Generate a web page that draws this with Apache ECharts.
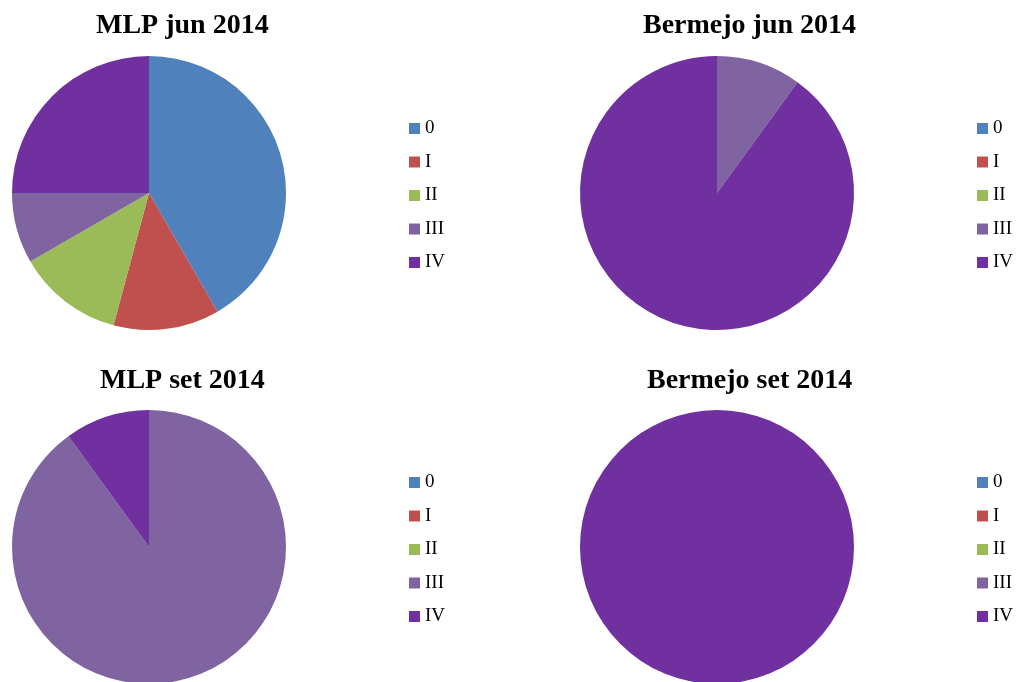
<!DOCTYPE html>
<html>
<head>
<meta charset="utf-8">
<script src="https://cdn.jsdelivr.net/npm/echarts@6/dist/echarts.min.js"></script>
<style>
    html, body { margin: 0; padding: 0; background: #fff; }
    #chart { width: 1020px; height: 682px; }
</style>
</head>
<body>
<div id="chart"></div>
<script>
    // categorias e valores
    var categories = ['0', 'I', 'II', 'III', 'IV'];
    var colorList = ['#4F81BD', '#C0504D', '#9BBB59', '#8064A2', '#7030A0'];

    var mlpJun = [10, 3, 3, 2, 6];
    var bermejoJun = [0, 0, 0, 1, 9];
    var mlpSet = [0, 0, 0, 9, 1];
    var bermejoSet = [0, 0, 0, 0, 1];

    var panels = [
        {title: 'MLP jun 2014', values: mlpJun, cx: 149, cy: 193, tx: 96, ty: 12, ly: 119},
        {title: 'Bermejo jun 2014', values: bermejoJun, cx: 717, cy: 193, tx: 643, ty: 12, ly: 119},
        {title: 'MLP set 2014', values: mlpSet, cx: 149, cy: 547, tx: 100, ty: 367, ly: 473},
        {title: 'Bermejo set 2014', values: bermejoSet, cx: 717, cy: 547, tx: 647, ty: 367, ly: 473}
    ];
    var legendX = [409, 977];

    var chart = echarts.init(document.getElementById('chart'));

    var titles = [], legends = [], series = [];
    panels.forEach(function (p, i) {
        titles.push({
            text: p.title,
            left: p.tx,
            top: p.ty,
            padding: 0,
            textStyle: {
                fontFamily: 'Liberation Serif',
                fontSize: 28,
                fontWeight: 'bold',
                color: '#000'
            }
        });
        legends.push({
            data: categories,
            orient: 'vertical',
            left: legendX[i % 2],
            top: p.ly,
            padding: 0,
            itemWidth: 11,
            itemHeight: 11,
            itemGap: 14.5,
            icon: 'rect',
            selectedMode: false,
            textStyle: {
                fontFamily: 'Liberation Serif',
                fontSize: 19,
                color: '#000'
            }
        });
        series.push({
            type: 'pie',
            name: p.title,
            center: [p.cx, p.cy],
            radius: 137,
            startAngle: 90,
            clockwise: true,
            silent: true,
            label: {show: false},
            labelLine: {show: false},
            itemStyle: {borderWidth: 0},
            data: categories.map(function (c, k) {
                return {name: c, value: p.values[k], itemStyle: {color: colorList[k]}};
            })
        });
    });

    chart.setOption({
        backgroundColor: '#fff',
        animation: false,
        color: colorList,
        title: titles,
        legend: legends,
        series: series
    });
</script>
</body>
</html>
